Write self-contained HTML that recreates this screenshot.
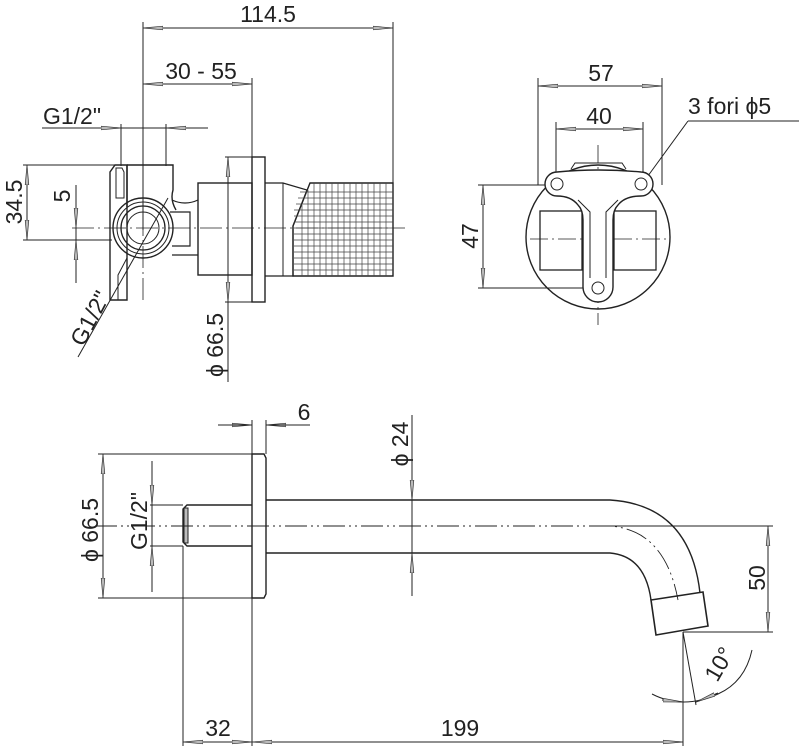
<!DOCTYPE html>
<html><head><meta charset="utf-8"><style>
html,body{margin:0;padding:0;background:#fff}
svg{display:block}
text{font-family:"Liberation Sans",sans-serif;font-size:23px;fill:#222}
</style></head><body>
<svg width="799" height="748" viewBox="0 0 799 748" xmlns="http://www.w3.org/2000/svg">
<defs>
<marker id="a" viewBox="0 0 20 6" refX="20" refY="3" markerWidth="20" markerHeight="6" markerUnits="userSpaceOnUse" orient="auto-start-reverse">
<path d="M0,1.2 L20,3 L0,4.8 Z" fill="#bbb" stroke="#333" stroke-width="0.7"/>
</marker>
</defs>
<g fill="none" stroke="#222" stroke-width="1">
<line x1="143" y1="22" x2="143" y2="230"/>
<line x1="393" y1="22" x2="393" y2="183"/>
<line x1="143" y1="28" x2="393" y2="28" marker-start="url(#a)" marker-end="url(#a)"/>
<line x1="252" y1="78" x2="252" y2="157"/>
<line x1="143" y1="84" x2="252" y2="84" marker-start="url(#a)" marker-end="url(#a)"/>
<line x1="42" y1="128" x2="208" y2="128"/>
<line x1="99" y1="128" x2="121" y2="128" marker-end="url(#a)"/>
<line x1="188" y1="128" x2="166" y2="128" marker-end="url(#a)"/>
<line x1="121" y1="124" x2="121" y2="166"/>
<line x1="166" y1="124" x2="166" y2="166"/>
<line x1="23" y1="165" x2="118" y2="165"/>
<line x1="23" y1="240" x2="112" y2="240"/>
<line x1="27" y1="165" x2="27" y2="240" marker-start="url(#a)" marker-end="url(#a)"/>
<line x1="76" y1="185" x2="76" y2="283"/>
<line x1="76" y1="206" x2="76" y2="228" marker-end="url(#a)"/>
<line x1="76" y1="262" x2="76" y2="240" marker-end="url(#a)"/>
<line x1="72" y1="228" x2="405" y2="228" stroke-dasharray="22,4,2,4" stroke-width="0.8"/>
<line x1="143" y1="150" x2="143" y2="300" stroke-dasharray="22,4,2,4" stroke-width="0.8"/>
<path d="M110,300 L110,172 L115,165 L127,165 L127,300 Z" stroke-width="1.4"/>
<path d="M116,168 L122,168 L124,172 L124,198 L116,198 Z"/>
<path d="M127,165 L173,165 L173,190 Q170,200 176,210 M127,207 L127,165" stroke-width="1.4"/>
<path d="M172,200 Q185,206 198,200 M172,255 L198,255 M170,212 L190,212 L190,246 L172,246" stroke-width="1.2"/>
<circle cx="143" cy="228" r="30" stroke-width="1.4"/>
<circle cx="143" cy="228" r="26"/>
<circle cx="143" cy="228" r="22" stroke-width="1.3"/>
<circle cx="143" cy="228" r="16"/>
<path d="M127,258 L118,275 L118,300"/>
<line x1="78" y1="357" x2="168" y2="198"/>
<rect x="198" y="183" width="54" height="92" stroke-width="1.4"/>
<rect x="252" y="157" width="13" height="145" stroke-width="1.4"/>
<path d="M265,183 L283,183 L307,190 L293,226 L293,276 L283,276 L265,276" stroke-width="1.2"/>
<line x1="283" y1="183" x2="283" y2="276"/>
<path d="M310,183 L393,183 L393,276 L293,276 L293,226 Z" stroke-width="1.4"/>
<g stroke-width="0.7" stroke="#444">
<path d="M300,192H393M298,198H393M296,204H393M294,210H393M294,216H393M294,222H393M294,228H393M294,234H393M294,240H393M294,246H393M294,252H393M294,258H393M294,264H393M294,270H393"/>
<path d="M314,183V276M320,183V276M326,183V276M332,183V276M338,183V276M344,183V276M350,183V276M356,183V276M362,183V276M368,183V276M374,183V276M380,183V276M386,183V276M302,205V276M308,190V276"/>
</g>
<line x1="225" y1="157" x2="262" y2="157"/>
<line x1="225" y1="302" x2="262" y2="302"/>
<line x1="228" y1="157" x2="228" y2="382"/>
<line x1="228" y1="180" x2="228" y2="157" marker-end="url(#a)"/>
<line x1="228" y1="280" x2="228" y2="302" marker-end="url(#a)"/>

<line x1="538" y1="78" x2="538" y2="185"/>
<line x1="662" y1="78" x2="662" y2="185"/>
<line x1="538" y1="86" x2="662" y2="86" marker-start="url(#a)" marker-end="url(#a)"/>
<line x1="556" y1="122" x2="556" y2="183"/>
<line x1="643" y1="122" x2="643" y2="183"/>
<line x1="556" y1="129" x2="643" y2="129" marker-start="url(#a)" marker-end="url(#a)"/>
<line x1="478" y1="185" x2="557" y2="185"/>
<line x1="478" y1="288" x2="598" y2="288"/>
<line x1="483" y1="185" x2="483" y2="288" marker-start="url(#a)" marker-end="url(#a)"/>
<line x1="688" y1="121" x2="799" y2="121"/>
<line x1="688" y1="121" x2="645" y2="180"/>
<circle cx="598" cy="237" r="72" stroke-width="1.4"/>
<line x1="598" y1="145" x2="598" y2="325" stroke-dasharray="18,4,2,4" stroke-width="0.8"/>
<line x1="530" y1="239" x2="666" y2="239" stroke-dasharray="18,4,2,4" stroke-width="0.8"/>
<rect x="540" y="211" width="42" height="59" stroke-width="1.3"/>
<rect x="614" y="211" width="42" height="59" stroke-width="1.3"/>
<path d="M557,172 Q598,168 641,172 A12,12 0 0 1 641,196 Q625,196 618,205 Q613,210 613,220 L613,287 A15,15 0 0 1 583,287 L583,220 Q583,210 578,205 Q571,196 557,196 A12,12 0 0 1 557,172 Z" fill="#fff" stroke-width="1.4"/>
<path d="M571,169 L575,163 L622,163 L626,169"/>
<path d="M578,200 L590,212 L590,278 M618,200 L606,212 L606,278"/>
<circle cx="557" cy="184" r="6"/>
<circle cx="641" cy="184" r="6"/>
<circle cx="598" cy="288" r="6"/>

<line x1="252" y1="420" x2="252" y2="746"/>
<line x1="266" y1="420" x2="266" y2="454"/>
<line x1="230" y1="425" x2="252" y2="425" marker-end="url(#a)"/>
<line x1="288" y1="425" x2="266" y2="425" marker-end="url(#a)"/>
<line x1="266" y1="425" x2="310" y2="425"/>
<line x1="218" y1="425" x2="252" y2="425"/>
<line x1="98" y1="454" x2="252" y2="454"/>
<line x1="98" y1="598" x2="252" y2="598"/>
<line x1="103" y1="454" x2="103" y2="598" marker-start="url(#a)" marker-end="url(#a)"/>
<line x1="152" y1="461" x2="152" y2="592"/>
<line x1="152" y1="483" x2="152" y2="505" marker-end="url(#a)"/>
<line x1="152" y1="568" x2="152" y2="546" marker-end="url(#a)"/>
<line x1="150" y1="505" x2="183" y2="505"/>
<line x1="150" y1="546" x2="183" y2="546"/>
<path d="M252,505 L187,505 L183,509 L183,542 L187,546 L252,546" stroke-width="1.4"/>
<rect x="184" y="508" width="4" height="35" fill="#bbb"/>
<line x1="183" y1="546" x2="183" y2="746"/>
<path d="M252,454 L264,454 L266,458 L266,594 L264,598 L252,598 Z" stroke-width="1.4"/>
<path d="M266,500 L610,500 Q690,505 700,593" stroke-width="1.4"/>
<path d="M266,553 L610,553 Q645,556 651,600" stroke-width="1.4"/>
<path d="M95,526 L610,526 Q665,530 678,600" stroke-dasharray="22,4,2,4,2,4" stroke-width="0.9"/>
<path d="M651,600 L703,592 L708,626 L656,635 Z" stroke-width="1.6"/>
<line x1="412" y1="415" x2="412" y2="596"/>
<line x1="412" y1="478" x2="412" y2="500" marker-end="url(#a)"/>
<line x1="412" y1="575" x2="412" y2="553" marker-end="url(#a)"/>
<line x1="610" y1="526" x2="773" y2="526"/>
<line x1="683" y1="632" x2="773" y2="632"/>
<line x1="768" y1="526" x2="768" y2="632" marker-start="url(#a)" marker-end="url(#a)"/>
<line x1="183" y1="742" x2="252" y2="742" marker-start="url(#a)" marker-end="url(#a)"/>
<line x1="252" y1="742" x2="683" y2="742" marker-start="url(#a)" marker-end="url(#a)"/>
<line x1="683" y1="632" x2="683" y2="746"/>
<line x1="683" y1="632" x2="696" y2="705"/>
<path d="M652,694 Q683,710 718,694 Q745,682 752,650"/>
<line x1="662" y1="700" x2="683" y2="702" marker-end="url(#a)"/>
<line x1="718" y1="693" x2="696" y2="702" marker-end="url(#a)"/>
</g>
<g>
<text x="268" y="22" text-anchor="middle">114.5</text>
<text x="201" y="79" text-anchor="middle">30 - 55</text>
<text x="72" y="124" text-anchor="middle">G1/2"</text>
<text transform="translate(22,202) rotate(-90)" text-anchor="middle">34.5</text>
<text transform="translate(70,196) rotate(-90)" text-anchor="middle">5</text>
<text transform="translate(97,322) rotate(-62)" text-anchor="middle">G1/2"</text>
<text transform="translate(223,345) rotate(-90)" text-anchor="middle">ϕ 66.5</text>
<text x="601" y="81" text-anchor="middle">57</text>
<text x="599" y="124" text-anchor="middle">40</text>
<text transform="translate(478,236) rotate(-90)" text-anchor="middle">47</text>
<text x="688" y="114">3 fori ϕ5</text>
<text x="304" y="420" text-anchor="middle">6</text>
<text transform="translate(408,444) rotate(-90)" text-anchor="middle">ϕ 24</text>
<text transform="translate(98,530) rotate(-90)" text-anchor="middle">ϕ 66.5</text>
<text transform="translate(147,521) rotate(-90)" text-anchor="middle">G1/2"</text>
<text transform="translate(765,578) rotate(-90)" text-anchor="middle">50</text>
<text x="218" y="736" text-anchor="middle">32</text>
<text x="460" y="736" text-anchor="middle">199</text>
<text transform="translate(726,668) rotate(-60)" text-anchor="middle">10°</text>
</g>
</svg>
</body></html>
